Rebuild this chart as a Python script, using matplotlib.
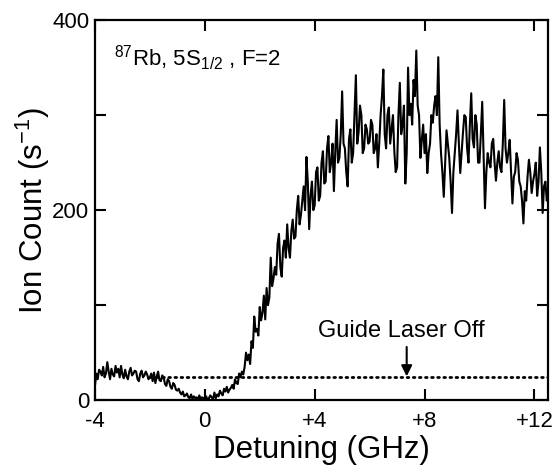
import numpy as np
import matplotlib
matplotlib.use("Agg")
import matplotlib.pyplot as plt
from matplotlib.ticker import MultipleLocator

plt.rcParams['font.family'] = ['Liberation Sans', 'DejaVu Sans']
plt.rcParams['mathtext.fontset'] = 'custom'
plt.rcParams['mathtext.rm'] = 'Liberation Sans'
plt.rcParams['mathtext.it'] = 'Liberation Sans:italic'

# ion count (s^-1), one value per 0.05 GHz from -4 to +12.5
counts = [
    15, 28, 22, 32, 30, 26, 35, 24, 28, 40, 30, 22, 33, 27, 25, 36, 29, 33, 24, 36,
    27, 23, 32, 25, 22, 30, 34, 26, 28, 31, 30, 22, 20, 28, 31, 24, 26, 30, 27, 22,
    24, 28, 20, 29, 18, 25, 30, 21, 20, 26, 24, 17, 15, 22, 20, 14, 12, 18, 16, 11,
    10, 12, 8, 6, 9, 4, 5, 7, 3, 2, 6, 1, 4, 2, 3, 0, 5, 1, 3, 2,
    1, 4, 0, 2, 5, 3, 1, 8, 2, 6, 4, 10, 7, 5, 12, 9, 14, 8, 11, 13,
    16, 12, 22, 18, 17, 28, 24, 30, 27, 35, 50, 42, 48, 38, 62, 55, 88, 72, 75, 68,
    98, 84, 92, 110, 85, 118, 100, 108, 150, 120, 128, 140, 132, 165, 175, 140, 130, 160, 168, 150,
    185, 160, 150, 178, 190, 170, 172, 200, 215, 185, 195, 210, 225, 200, 256, 230, 180, 215, 230, 200,
    205, 240, 245, 210, 215, 250, 262, 228, 230, 265, 278, 240, 250, 270, 220, 262, 295, 250, 255, 280,
    325, 270, 265, 240, 225, 275, 285, 250, 260, 300, 342, 270, 282, 310, 300, 260, 265, 290, 285, 270,
    272, 295, 290, 260, 265, 280, 245, 270, 300, 320, 348, 280, 265, 300, 308, 270, 285, 300, 262, 240,
    245, 300, 334, 280, 290, 310, 228, 260, 350, 300, 312, 290, 337, 320, 368, 310, 300, 255, 274, 290,
    260, 280, 239, 260, 270, 300, 292, 310, 320, 300, 361, 290, 260, 240, 214, 250, 284, 270, 255, 230,
    197, 240, 260, 280, 305, 270, 239, 260, 282, 300, 298, 265, 250, 290, 323, 275, 266, 300, 290, 250,
    250, 280, 314, 260, 202, 240, 260, 250, 245, 270, 275, 250, 231, 250, 262, 245, 240, 270, 316, 265,
    250, 260, 274, 240, 207, 235, 240, 260, 253, 230, 225, 210, 186, 220, 210, 235, 253, 240, 218, 230,
    238, 250, 215, 230, 266, 240, 197, 225, 230, 210, 218,
]
detuning = np.linspace(-4.0, 12.5, len(counts))

laser_off_level = 24
laser_off_start = -2.0
arrow_x = 7.35

xticks = [-4, 0, 4, 8, 12]
xticklabels = ['-4', '0', '+4', '+8', '+12']
yticks = [0, 200, 400]

fig = plt.figure(figsize=(5.52, 4.68), dpi=100)
ax = fig.add_axes([0.172, 0.145, 0.821, 0.812])

ax.plot(detuning, counts, color='black', lw=1.5)
ax.plot([laser_off_start, 12.5], [laser_off_level, laser_off_level],
        color='black', lw=2, linestyle=(0, (0.6, 1.6)), dash_capstyle='round')

ax.annotate('', xy=(arrow_x, laser_off_level + 1), xytext=(arrow_x, 56),
            arrowprops=dict(arrowstyle='-|>', color='black', lw=1.5,
                            mutation_scale=16, shrinkA=0, shrinkB=0))
ax.text(arrow_x - 0.2, 66, 'Guide Laser Off', ha='center', va='baseline', fontsize=17)

ax.text(-3.3, 352, r'$^{87}$Rb, 5S$_{1/2}$ , F=2', fontsize=16, va='baseline')

ax.set_xlim(-4, 12.5)
ax.set_ylim(0, 400)
ax.set_xticks(xticks)
ax.set_xticklabels(xticklabels)
ax.set_yticks(yticks)
ax.yaxis.set_minor_locator(MultipleLocator(100))
ax.tick_params(which='both', direction='in', top=True, right=True,
               labelsize=16, width=1.5, length=8)
ax.tick_params(axis='x', pad=8)
ax.tick_params(axis='y', pad=4)
for s in ax.spines.values():
    s.set_linewidth(1.6)

ax.set_xlabel('Detuning (GHz)', fontsize=22.5, labelpad=2)
ax.set_ylabel('Ion Count (s$^{-1}$)', fontsize=22.5, labelpad=0)

fig.savefig('out.png', dpi=100)
